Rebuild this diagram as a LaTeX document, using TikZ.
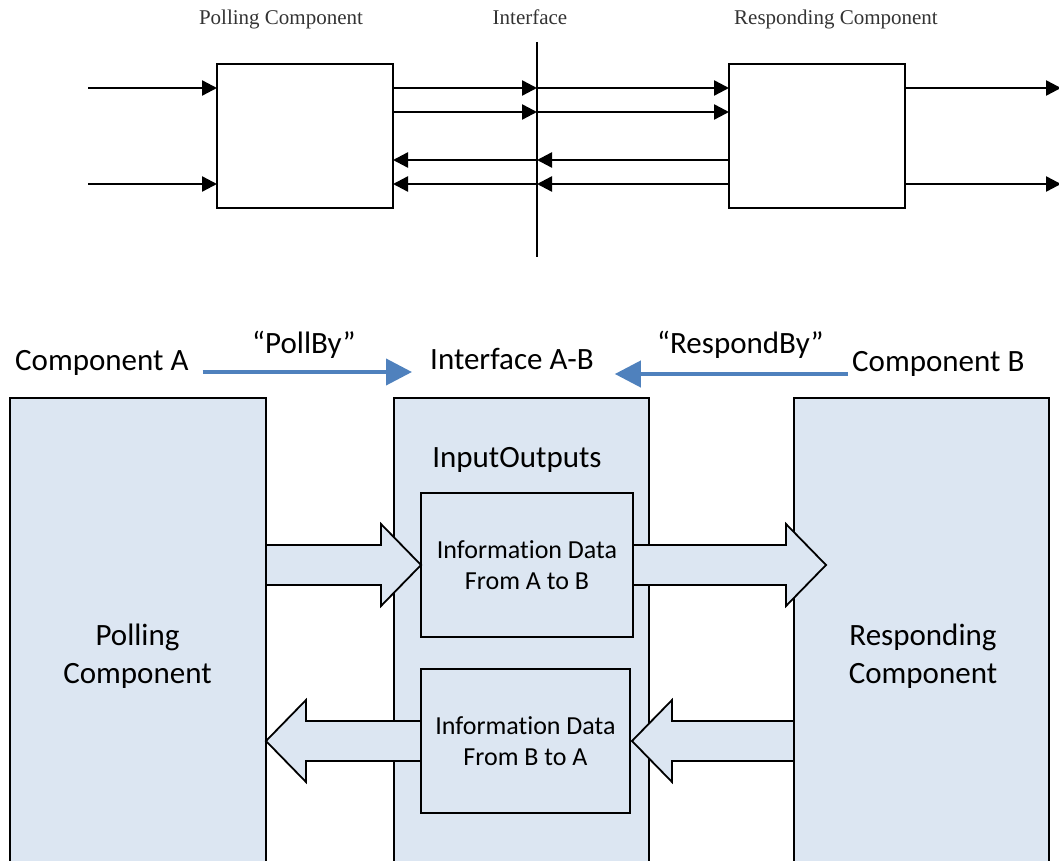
\documentclass[tikz,border=0pt]{standalone}
\usepackage{fontspec}
\setmainfont{Carlito}[Ligatures={NoCommon}]
\newfontfamily\tnr{Liberation Serif}
\usetikzlibrary{arrows.meta,calc}
\definecolor{boxfill}{HTML}{DCE6F2}
\definecolor{arrowblue}{HTML}{4F81BD}
\definecolor{toptext}{HTML}{333333}
\tikzset{
  topbox/.style={draw=black, line width=1.8pt, fill=white, inner sep=0pt, outer sep=0pt, minimum width=176pt, minimum height=144pt},
  sig/.style={line width=2.4pt, -{Triangle[length=15pt,width=15pt]}},
  toplabel/.style={font=\tnr\fontsize{21}{25}\selectfont, text=toptext, anchor=base, inner sep=0pt},
  bigbox/.style={draw=black, line width=2pt, fill=boxfill, inner sep=0pt, outer sep=0pt, minimum width=256pt, minimum height=466pt},
  innerbox/.style={draw=black, line width=2pt, fill=boxfill, inner sep=0pt, outer sep=0pt, minimum width=212pt, minimum height=144pt, align=center, font=\fontsize{26}{31}\selectfont},
  lbl/.style={font=\fontsize{31}{38}\selectfont, anchor=base west, inner sep=0pt},
  boxtext/.style={font=\fontsize{31}{38}\selectfont, align=center, inner sep=0pt},
  bluearrow/.style={draw=arrowblue, line width=4pt, -{Triangle[length=26pt,width=26pt]}},
  fat/.style={draw=black, line width=1.8pt, fill=boxfill, line join=miter},
}
% block arrow from #1 (tail) to #2 (tip), horizontal
\newcommand\fatarrow[2]{%
  \draw[fat] let \p1=(#1), \p2=(#2), \p3=($(#2)!40pt!(#1)$) in
    (\x1,\y1+20pt) -- (\x3,\y1+20pt) -- (\x3,\y1+41pt) -- (\x2,\y2)
    -- (\x3,\y1-41pt) -- (\x3,\y1-20pt) -- (\x1,\y1-20pt) -- cycle;}
\begin{document}
\begin{tikzpicture}[x=1pt,y=-1pt]
\useasboundingbox (0,0) rectangle (1059,861);
% ---------- top diagram ----------
\node[toplabel] (pcl) at (281,25) {Polling Component};
\node[toplabel] (ifl) at (530,25) {Interface};
\node[toplabel] (rcl) at (836,25) {Responding Component};
\node[topbox] (pc) at (305,136) {};
\node[topbox] (rc) at (817,136) {};
\coordinate (ifT) at (537,42);
\coordinate (ifB) at (537,257);
\draw[line width=2pt] (ifT) -- (ifB);
\coordinate (i1) at (537,88);
\coordinate (i2) at (537,112);
\coordinate (i3) at (537,160);
\coordinate (i4) at (537,184);
\coordinate (in1) at (88,88);
\coordinate (in2) at (88,184);
\coordinate (out1) at (1061,88);
\coordinate (out2) at (1061,184);
\draw[sig] (in1) -- (in1 -| pc.west);
\draw[sig] (in2) -- (in2 -| pc.west);
\draw[sig] (i1 -| pc.east) -- (i1);
\draw[sig] (i1) -- (i1 -| rc.west);
\draw[sig] (i2 -| pc.east) -- (i2);
\draw[sig] (i2) -- (i2 -| rc.west);
\draw[sig] (i3 -| rc.west) -- (i3);
\draw[sig] (i3) -- (i3 -| pc.east);
\draw[sig] (i4 -| rc.west) -- (i4);
\draw[sig] (i4) -- (i4 -| pc.east);
\draw[sig] (out1 -| rc.east) -- (out1);
\draw[sig] (out2 -| rc.east) -- (out2);
% ---------- bottom diagram ----------
\node[lbl] (cA) at (15,370) {Component A};
\node[lbl] (iAB) at (430,369) {Interface A-B};
\node[lbl] (cB) at (852,371) {Component B};
\node[lbl] (poll) at (252,353) {“PollBy”};
\node[lbl] (resp) at (657,353) {“RespondBy”};
\draw[bluearrow] ([xshift=14pt,yshift=-2pt]cA.base east) -- ([xshift=-18pt,yshift=-3pt]iAB.base west);
\draw[bluearrow] ([xshift=-4pt,yshift=-3pt]cB.base west) -- ([xshift=21pt,yshift=-5pt]iAB.base east);
\node[bigbox] (pcB) at (138,631) {};
\node[bigbox, minimum width=255pt] (ifBx) at (521.5,631) {};
\node[bigbox, minimum width=255pt] (rcB) at (921.5,631) {};
\node[boxtext] (pct) at (137.5,656) {Polling\\Component};
\node[boxtext] (rct) at (923,656) {Responding\\Component};
\node[lbl, anchor=base] (io) at (517,467) {InputOutputs};
\node[innerbox] (ib1) at (527,565) {Informat\kern0pt ion Data\\From A to B};
\node[innerbox, minimum width=209pt] (ib2) at (525.5,741) {Informat\kern0pt ion Data\\From B to A};
\coordinate (t2) at ($(rcB.west |- ib1.east)+(32,0)$);
\coordinate (t4) at ($(ib2.east)+(2,0)$);
\fatarrow{pcB.east |- ib1.west}{ib1.west}
\fatarrow{ib1.east}{t2}
\fatarrow{ib2.west}{pcB.east |- ib2.west}
\fatarrow{rcB.west |- ib2.east}{t4}
\end{tikzpicture}
\end{document}
